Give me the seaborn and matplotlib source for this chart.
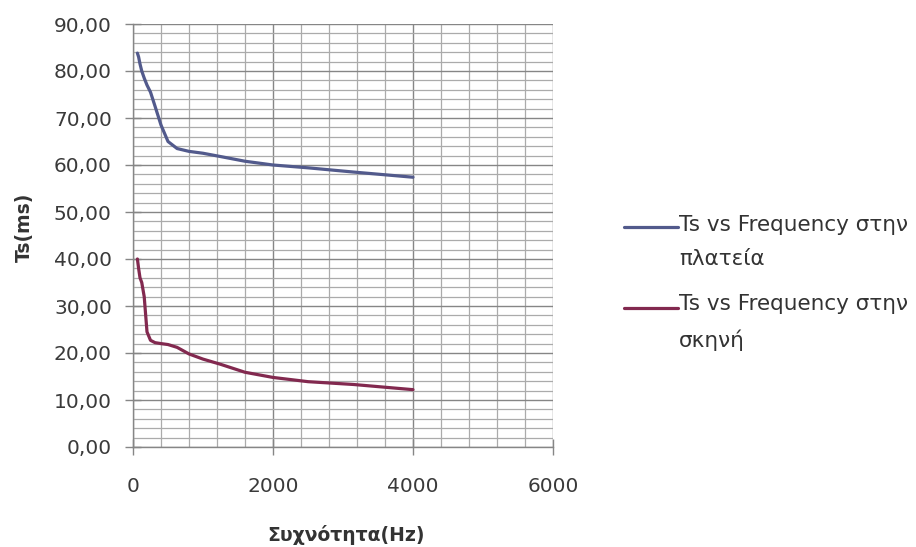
import matplotlib
matplotlib.use("Agg")
import matplotlib.pyplot as plt
from matplotlib.ticker import MultipleLocator, FuncFormatter
from matplotlib.legend_handler import HandlerLine2D
import seaborn as sns
import pandas as pd

# 1/3-octave band centre frequencies (Hz)
freqs = [63, 80, 100, 125, 160, 200, 250, 315, 400, 500, 630, 800,
         1000, 1250, 1600, 2000, 2500, 3150, 4000]

# Ts (ms) measured in the audience area
ts_plateia = [83.8, 83.0, 81.5, 80.0, 78.5, 77.0, 75.5, 72.5, 68.5, 65.0,
              63.5, 62.9, 62.5, 61.8, 60.8, 60.0, 59.4, 58.5, 57.4]
# Ts (ms) measured on stage
ts_skini = [40.0, 38.0, 36.0, 35.0, 32.0, 24.5, 22.7, 22.2, 22.0, 21.8,
            21.2, 19.8, 18.7, 17.6, 15.9, 14.8, 13.9, 13.3, 12.2]

label_plateia = "Ts vs Frequency στην\nπλατεία"
label_skini = "Ts vs Frequency στην\nσκηνή"

df = pd.concat([
    pd.DataFrame({"freq": freqs, "ts": ts_plateia, "series": label_plateia}),
    pd.DataFrame({"freq": freqs, "ts": ts_skini, "series": label_skini}),
])


class FirstLineHandler(HandlerLine2D):
    """Legend line aligned with the first line of a two-line label."""

    def create_artists(self, legend, orig_handle, xdescent, ydescent,
                       width, height, fontsize, trans):
        artists = super().create_artists(legend, orig_handle, xdescent,
                                         ydescent, width, height,
                                         fontsize, trans)
        for a in artists:
            a.set_ydata([y + 0.7 * fontsize for y in a.get_ydata()])
        return artists


sns.set_style("white")
plt.rcParams["font.family"] = ["DejaVu Sans"]

fig = plt.figure(figsize=(9.16, 5.47), dpi=100)
ax = fig.add_axes([133 / 916, 100 / 547, 420 / 916, 423 / 547])

sns.lineplot(data=df, x="freq", y="ts", hue="series",
             palette={label_plateia: "#525a8c", label_skini: "#82294f"},
             linewidth=2.3, ax=ax, sort=False)

ax.set_xlim(0, 6000)
ax.set_ylim(0, 90)
ax.xaxis.set_major_locator(MultipleLocator(2000))
ax.xaxis.set_minor_locator(MultipleLocator(400))
ax.yaxis.set_major_locator(MultipleLocator(10))
ax.yaxis.set_minor_locator(MultipleLocator(2))
ax.yaxis.set_major_formatter(FuncFormatter(lambda v, p: f"{v:.2f}".replace(".", ",")))

ax.grid(which="major", color="#868686", linewidth=1.0)
ax.grid(which="minor", color="#ababab", linewidth=0.9)
ax.set_axisbelow(True)

for side in ("top", "right"):
    ax.spines[side].set_visible(False)
for side in ("left", "bottom"):
    ax.spines[side].set_color("#868686")
    ax.spines[side].set_linewidth(1.0)

ax.tick_params(which="major", direction="inout", length=11.5, width=1.0,
               color="#868686", labelsize=14.5, labelcolor="#3a3a3a",
               left=True, bottom=True)
ax.tick_params(axis="x", which="major", pad=15.5)
ax.tick_params(axis="y", which="major", pad=9.5)
ax.tick_params(which="minor", length=0)

ax.set_xlabel("Συχνότητα(Hz)", fontsize=13.5, fontweight="bold", color="#333333")
ax.set_ylabel("Ts(ms)", fontsize=13.5, fontweight="bold", color="#333333")
ax.xaxis.label.set_va("center")
ax.yaxis.label.set_va("center")
ax.xaxis.set_label_coords(0.508, -0.208)
ax.yaxis.set_label_coords(-0.259, 0.52)

leg = ax.legend(loc="center left", bbox_to_anchor=(624 / 916, 1 - 283 / 547),
                bbox_transform=fig.transFigure, frameon=False, fontsize=15.5,
                handlelength=2.5, handletextpad=0.05, labelspacing=1.15,
                borderpad=0, borderaxespad=0, labelcolor="#333333",
                handler_map={matplotlib.lines.Line2D: FirstLineHandler()})
for t in leg.get_texts():
    t.set_linespacing(1.9)
for line in leg.get_lines():
    line.set_linewidth(2.3)

fig.savefig("out.png", dpi=100)
